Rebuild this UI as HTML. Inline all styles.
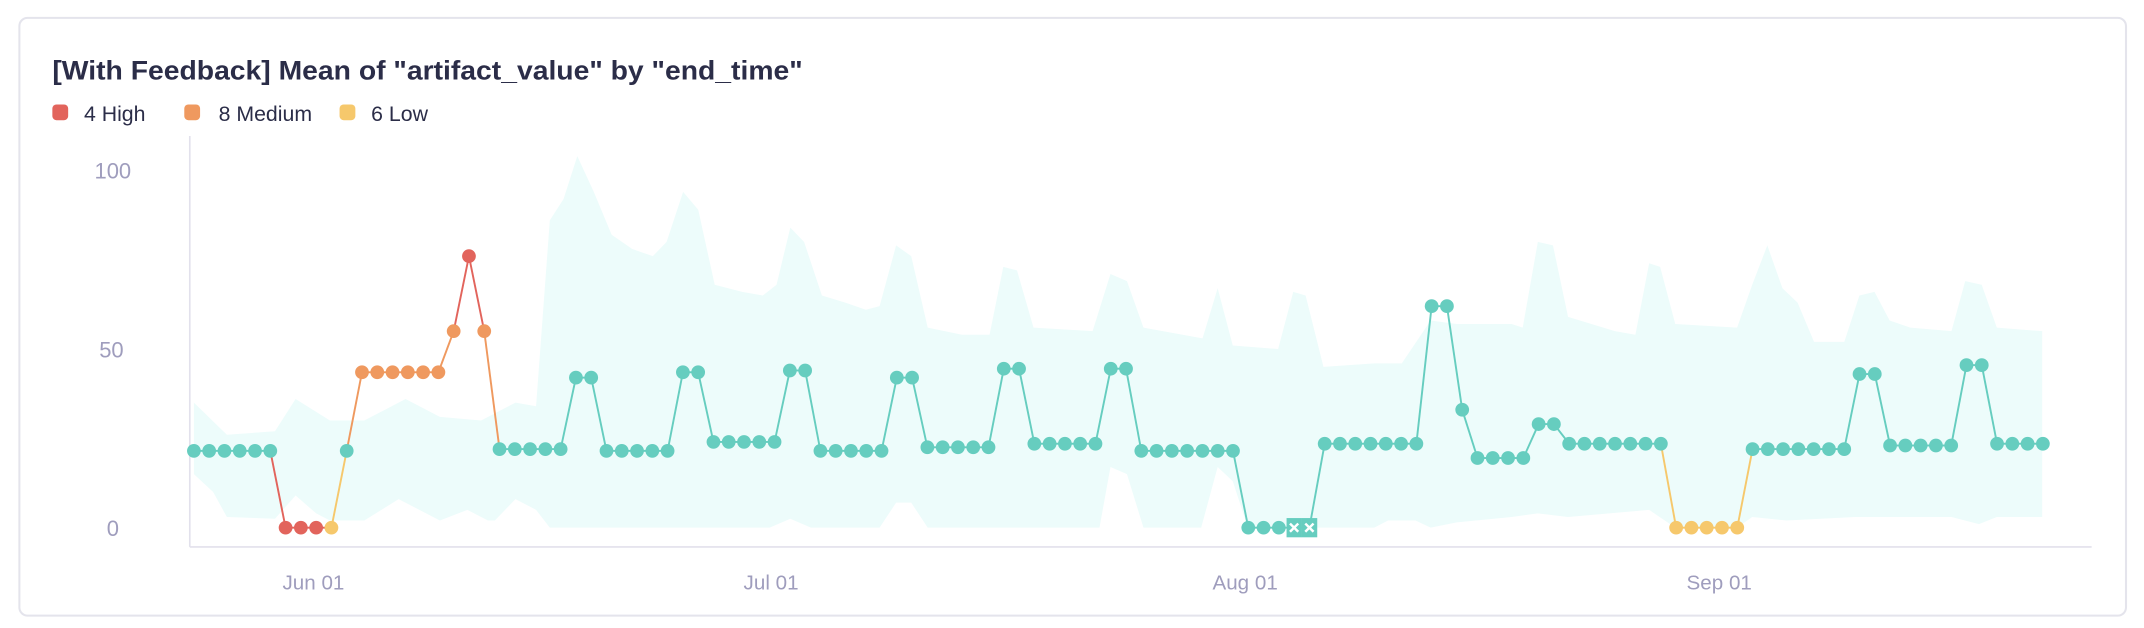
<!DOCTYPE html>
<html><head><meta charset="utf-8"><style>
html,body{margin:0;padding:0;background:#fff;width:2144px;height:628px;overflow:hidden}
svg{display:block}
text{font-family:"Liberation Sans",sans-serif}
</style></head><body>
<svg id="s" width="2144" height="628" viewBox="0 0 1560 457" xmlns="http://www.w3.org/2000/svg">
<rect x="14" y="13" width="1533" height="435" rx="6" fill="#fff" stroke="#e4e4ec" stroke-width="1.5"/>
<text x="38" y="58" font-size="19.5" font-weight="bold" fill="#2b2d48" textLength="546" lengthAdjust="spacingAndGlyphs">[With Feedback] Mean of "artifact_value" by "end_time"</text>
<rect x="38" y="76" width="11.5" height="11.5" rx="3" fill="#e2645c"/>
<text x="61" y="88" font-size="15.5" fill="#2b2d48">4 High</text>
<rect x="134" y="76" width="11.5" height="11.5" rx="3" fill="#ef995f"/>
<text x="159" y="88" font-size="15.5" fill="#2b2d48">8 Medium</text>
<rect x="247" y="76" width="11.5" height="11.5" rx="3" fill="#f6c86c"/>
<text x="270" y="88" font-size="15.5" fill="#2b2d48">6 Low</text>
<g font-size="16" fill="#9f9dbd" text-anchor="middle">
<text x="82" y="130">100</text><text x="81" y="260">50</text><text x="82" y="390">0</text>
</g>
<g font-size="15" fill="#9f9dbd" text-anchor="middle">
<text x="228" y="429">Jun 01</text><text x="561" y="429">Jul 01</text><text x="906" y="429">Aug 01</text><text x="1251" y="429">Sep 01</text>
</g>
<g id="band"></g>
<line x1="138" y1="99" x2="138" y2="398" stroke="#e2e1ec" stroke-width="1.2"/>
<line x1="138" y1="398" x2="1522" y2="398" stroke="#e2e1ec" stroke-width="1.2"/>
<g id="lines"></g><g id="dots"></g>
</svg>
<script>
var Y=function(v){return 384-2.6*v};
var up=[[141,35],[165,26],[200,27],[215,36],[240,30],[265,30],[295,36],[320,31],[350,30],[375,35],[390,34],[400,86],[410,92],[420,104],[432,94],[445,82],[460,78],[475,76],[485,80],[497,94],[508,89],[520,68],[540,66],[555,65],[565,68],[575,84],[585,80],[598,65],[615,63],[630,61],[640,62],[652,79],[663,76],[675,56],[700,54],[720,54],[730,73],[740,72],[752,56],[795,55],[808,71],[820,69],[832,56],[875,53],[886,67],[897,51],[930,50],[941,66],[950,65],[963,45],[1000,46],[1020,46],[1041,58],[1060,57],[1100,57],[1108,56],[1119,80],[1130,79],[1141,59],[1175,55],[1190,54],[1200,74],[1208,73],[1219,57],[1264,56],[1275,68],[1286,79],[1297,67],[1308,63],[1320,52],[1342,52],[1353,65],[1364,66],[1375,58],[1390,56],[1420,55],[1430,69],[1442,68],[1453,56],[1486,55]];
var lo=[[141,15],[155,10],[165,3],[200,2.5],[215,9],[230,4],[240,2],[265,2],[290,8],[310,4],[320,2],[340,5],[355,2],[360,2],[375,8],[390,5],[400,0],[560,0],[575,2.5],[590,0],[640,0],[652,7],[663,7],[675,0],[800,0],[808,17],[820,15],[832,0],[874,0],[886,17],[897,13],[908,0],[1000,0],[1010,2],[1030,2],[1041,0],[1060,1.5],[1100,3],[1119,4],[1141,3],[1200,5],[1219,0],[1264,0],[1275,3],[1300,2],[1350,3],[1420,3],[1440,1],[1453,3],[1486,3]];
var d="M";up.forEach(function(p){d+=p[0]+","+Y(p[1])+" L"});
lo.slice().reverse().forEach(function(p){d+=p[0]+","+Y(p[1])+" L"});
d=d.slice(0,-2)+"Z";
document.getElementById("band").innerHTML='<path d="'+d+'" fill="#edfcfb"/>';
var segs=[[6,21.5,0],[3,0,1],[1,0,3],[1,21.5,0],[6,43.5,2],[1,55,2],[1,76,1],[1,55,2],[5,22,0],[2,42,0],[5,21.5,0],[2,43.5,0],[5,24,0],[2,44,0],[5,21.5,0],[2,42,0],[5,22.5,0],[2,44.5,0],[5,23.5,0],[2,44.5,0],[7,21.5,0],[3,0,0],[2,0,9],[7,23.5,0],[2,62,0],[1,33,0],[4,19.5,0],[2,29,0],[7,23.5,0],[5,0,3],[7,22,0],[2,43,0],[5,23,0],[2,45.5,0],[4,23.5,0]];
var pts=[];segs.forEach(function(s){for(var k=0;k<s[0];k++)pts.push([s[1],s[2]])});
var col={0:"#66cdbf",1:"#e2645c",2:"#ef995f",3:"#f6c86c",9:"#66cdbf"};
var rank={0:0,9:0,3:1,2:2,1:3};
var L="",D="";
for(var i=0;i<pts.length;i++){
 var x=141+11.12*i,y=Y(pts[i][0]);
 if(i<pts.length-1){var x2=141+11.12*(i+1),y2=Y(pts[i+1][0]);
  var c=rank[pts[i][1]]>=rank[pts[i+1][1]]?pts[i][1]:pts[i+1][1];
  L+='<line x1="'+x+'" y1="'+y+'" x2="'+x2+'" y2="'+y2+'" stroke="'+col[c]+'" stroke-width="1.4"/>';}
 if(pts[i][1]==9){D+='<rect x="'+(x-5.5)+'" y="'+(y-7)+'" width="11.2" height="14" fill="#66cdbf"/><path d="M'+(x-3)+','+(y-3)+' l6,6 M'+(x+3)+','+(y-3)+' l-6,6" stroke="#fff" stroke-width="1.8"/>';}
 else D+='<circle cx="'+x+'" cy="'+y+'" r="5" fill="'+col[pts[i][1]]+'"/>';
}
document.getElementById("lines").innerHTML=L;
document.getElementById("dots").innerHTML=D;
</script>
</body></html>
